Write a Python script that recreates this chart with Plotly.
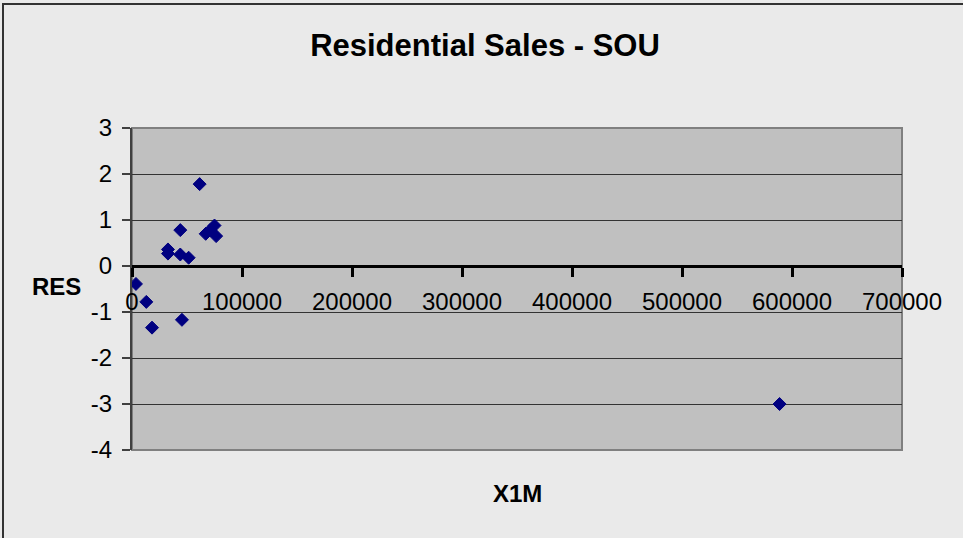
import plotly.graph_objects as go

# Residuals (RES) against X1M for the SOU residential sales model
x1m = [3600, 13000, 18200, 32700, 32700, 43900, 43900, 45400, 51500,
       61500, 67000, 71000, 75000, 76500, 588700]
res = [-0.39, -0.78, -1.34, 0.36, 0.27, 0.78, 0.25, -1.17, 0.18,
       1.78, 0.70, 0.78, 0.88, 0.65, -3.00]

# y tick positions and their labels (plain hyphen for negatives)
y_ticks = [-4, -3, -2, -1, 0, 1, 2, 3]
y_tick_labels = ["-4", "-3", "-2", "-1", "0", "1", "2", "3"]

chart_title = "Residential Sales - SOU"
x_title = "X1M"
y_title = "RES"

FONT = "Liberation Sans, Arial, sans-serif"
W, H = 963, 538
L, R, T, B = 132, 61, 128, 88
Y_MIN, Y_MAX = -4, 3

fig = go.Figure(
    go.Scatter(
        x=x1m, y=res, mode="markers",
        marker=dict(symbol="diamond", size=10, color="#000080",
                    line=dict(color="#000080", width=1)),
        showlegend=False,
    )
)

fig.update_layout(
    width=W, height=H,
    margin=dict(l=L, r=R, t=T, b=B),
    paper_bgcolor="#EAEAEA",
    plot_bgcolor="#C0C0C0",
    font=dict(family=FONT, size=24, color="black"),
    title=dict(text=chart_title, x=485 / W, xanchor="center",
               y=1 - 45 / H, yanchor="middle",
               font=dict(family=FONT, size=31, weight="bold", color="black")),
    xaxis=dict(
        range=[0, 700000], dtick=100000, tick0=0, tickformat="d",
        showgrid=False, zeroline=False,
        anchor="free", position=(0 - Y_MIN) / (Y_MAX - Y_MIN),
        showline=True, linecolor="black", linewidth=3,
        ticks="outside", ticklen=9, tickwidth=3, tickcolor="black",
        ticklabelstandoff=4,
        tickfont=dict(family=FONT, size=24, color="black"),
    ),
    yaxis=dict(
        range=[Y_MIN, Y_MAX],
        tickmode="array", tickvals=y_ticks, ticktext=y_tick_labels,
        showgrid=True, gridcolor="#333333", gridwidth=1,
        zeroline=False,
        showline=True, linecolor="#404040", linewidth=2,
        ticks="outside", ticklen=8, tickwidth=1.5, tickcolor="#404040",
        ticklabelstandoff=5,
        tickfont=dict(family=FONT, size=24, color="black"),
    ),
    shapes=[
        # plot-area frame (right and bottom edges in grey)
        dict(type="rect", xref="x domain", yref="y domain",
             x0=0, x1=1, y0=0, y1=1, layer="below",
             line=dict(color="#808080", width=2)),
        # outer chart border
        dict(type="rect", xref="paper", yref="paper",
             x0=-(L - 3) / (W - L - R), y0=-0.5,
             x1=1.5, y1=1 + (T - 4) / (H - T - B),
             line=dict(color="#333333", width=2)),
    ],
    annotations=[
        dict(text=f"<b>{y_title}</b>", xref="paper", yref="paper",
             x=-(L - 56) / (W - L - R), y=1 - (286 - T) / (H - T - B),
             xanchor="center", yanchor="middle", showarrow=False,
             font=dict(family=FONT, size=24, color="black")),
        dict(text=f"<b>{x_title}</b>", xref="paper", yref="paper",
             x=(517 - L) / (W - L - R), y=-(493 - (H - B)) / (H - T - B),
             xanchor="center", yanchor="middle", showarrow=False,
             font=dict(family=FONT, size=24, color="black")),
    ],
)

fig.write_html("out.html")
